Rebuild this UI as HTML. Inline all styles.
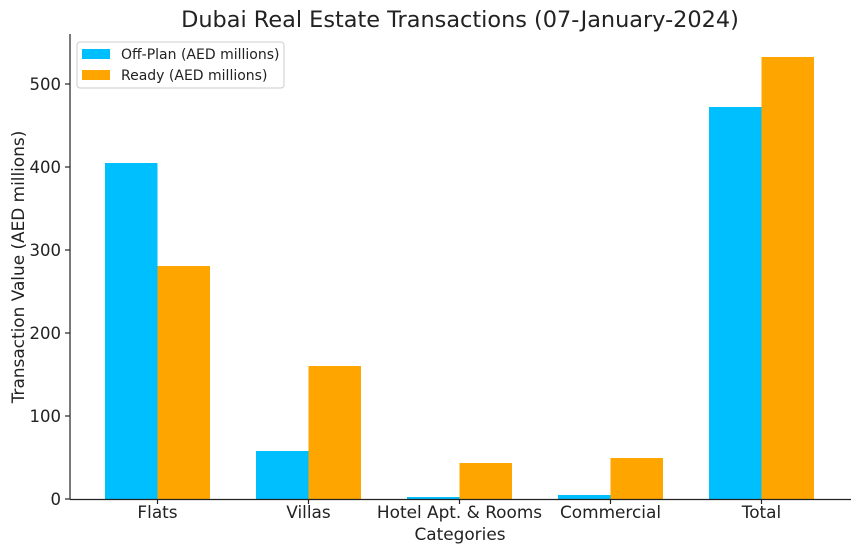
<!DOCTYPE html>
<html><head><meta charset="utf-8"><style>
body{margin:0;background:#fff;}
text{font-family:"DejaVu Sans","Liberation Sans",sans-serif;fill:#222;}
</style></head><body>
<svg width="860" height="553" xmlns="http://www.w3.org/2000/svg">
<rect width="860" height="553" fill="#fff"/>
<text x="460" y="27" font-size="22.4" text-anchor="middle">Dubai Real Estate Transactions (07-January-2024)</text>
<g fill="#00BFFF">
<rect x="105" y="163" width="52.5" height="336"/>
<rect x="256" y="451" width="52.5" height="48"/>
<rect x="407" y="497" width="52.5" height="2"/>
<rect x="558" y="495" width="52.5" height="4"/>
<rect x="709" y="107" width="52.5" height="392"/>
</g>
<g fill="#FFA500">
<rect x="157.5" y="266" width="52.5" height="233"/>
<rect x="308.5" y="366" width="52.5" height="133"/>
<rect x="459.5" y="463" width="52.5" height="36"/>
<rect x="610.5" y="458" width="52.5" height="41"/>
<rect x="761.5" y="57" width="52.5" height="442"/>
</g>
<g stroke="#222" stroke-width="1.2" fill="none">
<line x1="70" y1="34" x2="70" y2="499.5"/>
<line x1="70" y1="499.5" x2="851" y2="499.5"/>
<line x1="65" y1="499" x2="70" y2="499"/>
<line x1="65" y1="416" x2="70" y2="416"/>
<line x1="65" y1="333" x2="70" y2="333"/>
<line x1="65" y1="250" x2="70" y2="250"/>
<line x1="65" y1="167" x2="70" y2="167"/>
<line x1="65" y1="84" x2="70" y2="84"/>
<line x1="157.5" y1="499" x2="157.5" y2="504"/>
<line x1="308.5" y1="499" x2="308.5" y2="504"/>
<line x1="459.5" y1="499" x2="459.5" y2="504"/>
<line x1="610.5" y1="499" x2="610.5" y2="504"/>
<line x1="761.5" y1="499" x2="761.5" y2="504"/>
</g>
<g font-size="16.5" text-anchor="end">
<text x="61" y="505">0</text>
<text x="61" y="422">100</text>
<text x="61" y="339">200</text>
<text x="61" y="256">300</text>
<text x="61" y="173">400</text>
<text x="61" y="90">500</text>
</g>
<g font-size="16.9" text-anchor="middle">
<text x="157.5" y="518">Flats</text>
<text x="308.5" y="518">Villas</text>
<text x="459.5" y="518">Hotel Apt. &amp; Rooms</text>
<text x="610.5" y="518">Commercial</text>
<text x="761.5" y="518">Total</text>
<text x="460" y="540">Categories</text>
</g>
<text transform="translate(24,267) rotate(-90)" font-size="16.9" text-anchor="middle">Transaction Value (AED millions)</text>
<rect x="77" y="42" width="207" height="46" rx="3" fill="#fff" stroke="#ccc"/>
<rect x="82" y="49" width="28" height="10" fill="#00BFFF"/>
<rect x="82" y="70" width="28" height="10" fill="#FFA500"/>
<text x="121" y="59" font-size="14">Off-Plan (AED millions)</text>
<text x="121" y="80" font-size="14">Ready (AED millions)</text>
</svg>
</body></html>
